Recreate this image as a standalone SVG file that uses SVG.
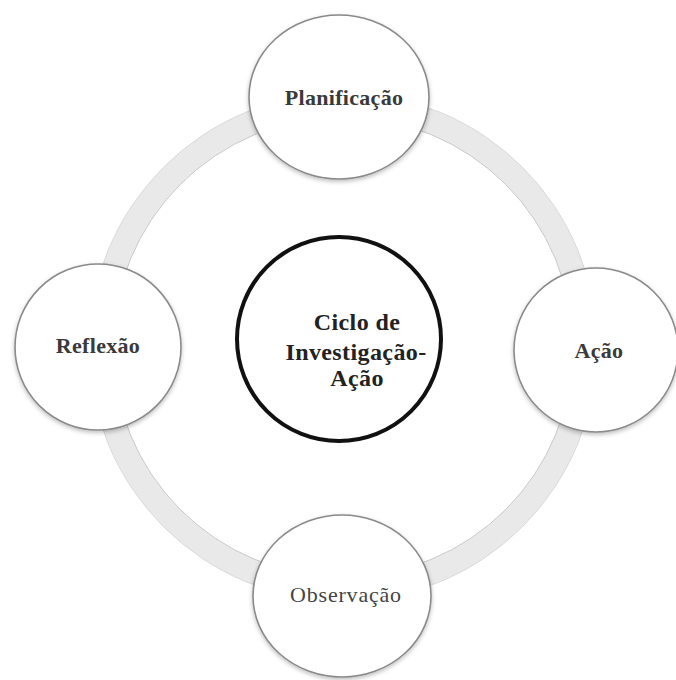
<svg xmlns="http://www.w3.org/2000/svg" width="676" height="680" viewBox="0 0 676 680">
  <style>
    .node { fill: #ffffff; stroke: #8a8a8a; stroke-width: 1.6; filter: url(#sh); }
    .lbl { font-family: "Liberation Serif", "Times New Roman", serif; font-weight: bold; font-size: 22px; fill: #3a3a3a; text-anchor: middle; letter-spacing: 0.3px; }
    .ctr { font-family: "Liberation Serif", "Times New Roman", serif; font-weight: bold; font-size: 24px; fill: #222; text-anchor: middle; letter-spacing: 0.4px; }
  </style>
  <defs>
    <filter id="sh" x="-20%" y="-20%" width="140%" height="140%">
      <feDropShadow dx="0" dy="2" stdDeviation="2" flood-color="#000" flood-opacity="0.25"/>
    </filter>
  </defs>
  <rect width="676" height="680" fill="#ffffff"/>
  <g id="connectors">
    <circle cx="343" cy="347" r="242" fill="none" stroke="#e9e9e9" stroke-width="24"/>
    <circle cx="343" cy="347" r="230" fill="none" stroke="#c8c8c8" stroke-width="1"/>
    <circle cx="343" cy="347" r="254" fill="none" stroke="#dadada" stroke-width="1"/>
  </g>
  <g id="center">
    <circle cx="339" cy="339" r="102" fill="#ffffff" stroke="#111" stroke-width="4"/>
    <text class="ctr" x="357" y="330">Ciclo de</text>
    <text class="ctr" x="356" y="360">Investigação-</text>
    <text class="ctr" x="357" y="386">Ação</text>
  </g>
  <g id="planificacao">
    <ellipse class="node" cx="339" cy="97" rx="90" ry="82"/>
    <text class="lbl" x="344" y="105">Planificação</text>
  </g>
  <g id="acao">
    <circle class="node" cx="596" cy="350" r="82"/>
    <text class="lbl" x="599" y="358">Ação</text>
  </g>
  <g id="observacao">
    <ellipse class="node" cx="342" cy="596" rx="89" ry="81"/>
    <text class="lbl" x="346" y="602" style="font-weight:normal;fill:#444;letter-spacing:0.8px">Observação</text>
  </g>
  <g id="reflexao">
    <circle class="node" cx="98" cy="347" r="83"/>
    <text class="lbl" x="98" y="353">Reflexão</text>
  </g>
</svg>
